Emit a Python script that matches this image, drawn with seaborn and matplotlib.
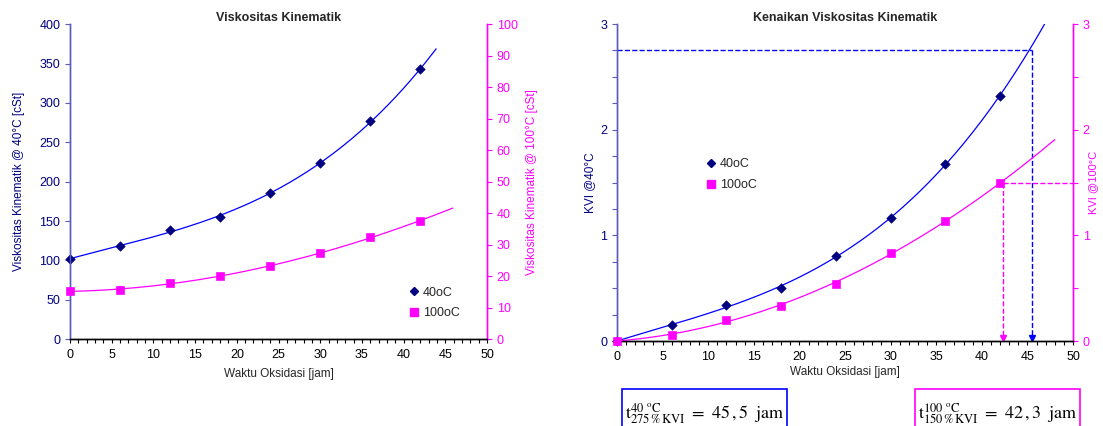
import numpy as np
import pandas as pd
import matplotlib
matplotlib.use("Agg")
import matplotlib.pyplot as plt
from matplotlib.lines import Line2D
from matplotlib.patches import Rectangle
from matplotlib.ticker import MultipleLocator
import seaborn as sns

# Data
waktu = [0, 6, 12, 18, 24, 30, 36, 42]
visk_40 = [102.1, 117.9, 138.9, 154.7, 185.8, 223.2, 277.0, 342.7]
visk_100 = [15.2, 15.7, 17.9, 19.9, 23.2, 27.3, 32.3, 37.6]
kvi_40 = [0.0, 0.148, 0.343, 0.50, 0.80, 1.164, 1.678, 2.322]
kvi_100 = [0.0, 0.06, 0.20, 0.336, 0.544, 0.833, 1.138, 1.492]

# trendline end points (hours)
fit_end_visk40, fit_end_visk100 = 43.9, 45.9
fit_end_kvi40, fit_end_kvi100 = 47.0, 48.0

# read-off results
t_kvi40, lvl_kvi40 = 45.5, 2.75
t_kvi100, lvl_kvi100 = 42.3, 1.5

NAVY = "#000080"
BLUE = "#0000FF"
MAG = "#FF00FF"
SPINE_L = "#5a5ac0"

sns.set_style("white")
plt.rcParams["font.family"] = ["Liberation Sans", "DejaVu Sans"]
plt.rcParams["mathtext.fontset"] = "stix"

df = pd.DataFrame({"waktu": waktu, "v40": visk_40, "v100": visk_100,
                   "k40": kvi_40, "k100": kvi_100})


def trend(x, y, end, deg=3):
    """Polynomial trendline like the Excel one."""
    c = np.polyfit(x, y, deg)
    xx = np.linspace(0, end, 200)
    return pd.DataFrame({"x": xx, "y": np.polyval(c, xx)})


def style_axes(ax, ax2, ymaj, ymin_l, ymaj2, ymin_r, xlabelpad):
    ax.set_xlim(0, 50)
    ax.xaxis.set_major_locator(MultipleLocator(5))
    ax.xaxis.set_minor_locator(MultipleLocator(1))
    ax.tick_params(axis="x", which="both", direction="out", bottom=True,
                   length=3, width=0.8, colors="black", labelsize=9, pad=4)
    ax.tick_params(axis="y", which="both", direction="out", left=True,
                   length=3.5, width=0.8, color=SPINE_L, labelcolor=NAVY, labelsize=9)
    ax.yaxis.set_major_locator(MultipleLocator(ymaj))
    ax.yaxis.set_minor_locator(MultipleLocator(ymin_l))
    ax2.yaxis.set_major_locator(MultipleLocator(ymaj2))
    ax2.yaxis.set_minor_locator(MultipleLocator(ymin_r))
    ax2.tick_params(axis="y", which="both", direction="out", right=True,
                    length=3.5, width=0.8, color=MAG, labelcolor=MAG, labelsize=9)
    for a in (ax, ax2):
        a.spines["top"].set_visible(False)
        a.spines["left"].set_color(SPINE_L)
        a.spines["right"].set_color(MAG)
        a.spines["bottom"].set_color("black")
        for s in a.spines.values():
            s.set_linewidth(1.0)
    ax.set_xlabel("Waktu Oksidasi [jam]", fontsize=8.5, labelpad=xlabelpad)


fig = plt.figure(figsize=(11.03, 4.26), dpi=100)

# ---------------- left chart ----------------
ax1 = fig.add_axes([0.0635, 0.204, 0.378, 0.739])
ax1b = ax1.twinx()

sns.lineplot(data=trend(waktu, visk_40, fit_end_visk40), x="x", y="y", ax=ax1,
             color=BLUE, lw=0.9)
sns.scatterplot(data=df, x="waktu", y="v40", ax=ax1, marker="D", s=24,
                color=NAVY, edgecolor=NAVY, zorder=5, clip_on=False)
sns.lineplot(data=trend(waktu, visk_100, fit_end_visk100), x="x", y="y", ax=ax1b,
             color=MAG, lw=0.9)
sns.scatterplot(data=df, x="waktu", y="v100", ax=ax1b, marker="s", s=34,
                color=MAG, edgecolor=MAG, zorder=5, clip_on=False)

ax1.set_ylim(0, 400)
ax1b.set_ylim(0, 100)
style_axes(ax1, ax1b, 50, 50, 10, 10, xlabelpad=5)
ax1.set_ylabel("Viskositas Kinematik @ 40°C [cSt]", fontsize=8.5, color=NAVY, labelpad=10)
ax1b.set_ylabel("Viskositas Kinematik @ 100°C [cSt]", fontsize=8.5, color=MAG, labelpad=6)
ax1.set_title("Viskositas Kinematik", fontsize=9, fontweight="bold", pad=1)

handles = [Line2D([], [], ls="", marker="D", ms=4.5, color=NAVY, label="40oC"),
           Line2D([], [], ls="", marker="s", ms=6, color=MAG, label="100oC")]
ax1.legend(handles=handles, loc="center left", bbox_to_anchor=(0.78, 0.115),
           frameon=False, fontsize=9, handletextpad=0.1, handlelength=1.2,
           labelspacing=0.7)

# ---------------- right chart ----------------
ax2 = fig.add_axes([0.5594, 0.1995, 0.4134, 0.744])
ax2b = ax2.twinx()

sns.lineplot(data=trend(waktu, kvi_40, fit_end_kvi40), x="x", y="y", ax=ax2,
             color=BLUE, lw=0.9)
sns.scatterplot(data=df, x="waktu", y="k40", ax=ax2, marker="D", s=24,
                color=NAVY, edgecolor=NAVY, zorder=5, clip_on=False)
sns.lineplot(data=trend(waktu, kvi_100, fit_end_kvi100), x="x", y="y", ax=ax2b,
             color=MAG, lw=0.9)
sns.scatterplot(data=df, x="waktu", y="k100", ax=ax2b, marker="s", s=34,
                color=MAG, edgecolor=MAG, zorder=5, clip_on=False)

ax2.set_ylim(0, 3)
ax2b.set_ylim(0, 3)
style_axes(ax2, ax2b, 1, 0.25, 1, 0.5, xlabelpad=2)
ax2.set_ylabel("KVI @40°C", fontsize=8.5, color=NAVY, labelpad=3)
ax2b.set_ylabel("KVI @100°C", fontsize=8, color=MAG)
ax2b.yaxis.set_label_coords(1.034, 0.5)
ax2.set_title("Kenaikan Viskositas Kinematik", fontsize=9, fontweight="bold", pad=1)

# read-off guides
ax2.plot([0, t_kvi40], [lvl_kvi40, lvl_kvi40], ls="--", color=BLUE, lw=1)
ax2.plot([t_kvi40, t_kvi40], [lvl_kvi40, 0.02], ls="--", color=BLUE, lw=1)
ax2.plot([t_kvi40], [0.03], marker="v", ms=4, color=BLUE)
ax2b.plot([t_kvi100, 50], [lvl_kvi100, lvl_kvi100], ls="--", color=MAG, lw=1)
ax2b.plot([t_kvi100, t_kvi100], [lvl_kvi100, 0.02], ls="--", color=MAG, lw=1)
ax2b.plot([t_kvi100], [0.03], marker="v", ms=4, color=MAG)

ax2.legend(handles=handles, loc="center left", bbox_to_anchor=(0.165, 0.525),
           frameon=False, fontsize=9, handletextpad=0.1, handlelength=1.2,
           labelspacing=0.7)

# result boxes under the right chart
fig.patches.append(Rectangle((0.564, -0.05), 0.1496, 0.137, transform=fig.transFigure,
                             fill=False, edgecolor=BLUE, lw=1.2))
fig.patches.append(Rectangle((0.8296, -0.05), 0.1496, 0.137, transform=fig.transFigure,
                             fill=False, edgecolor=MAG, lw=1.2))
fig.text(0.5665, 0.018,
         r"$\mathrm{t}_{275\,\%\,\mathrm{KVI}}^{40\ ^{\mathrm{o}}\mathrm{C}}\ =\ 45\,,5\ \ \mathrm{jam}$",
         fontsize=13, va="baseline", color="black")
fig.text(0.8325, 0.018,
         r"$\mathrm{t}_{150\,\%\,\mathrm{KVI}}^{100\ ^{\mathrm{o}}\mathrm{C}}\ =\ 42\,,3\ \ \mathrm{jam}$",
         fontsize=13, va="baseline", color="black")

fig.savefig("out.png", dpi=100)
